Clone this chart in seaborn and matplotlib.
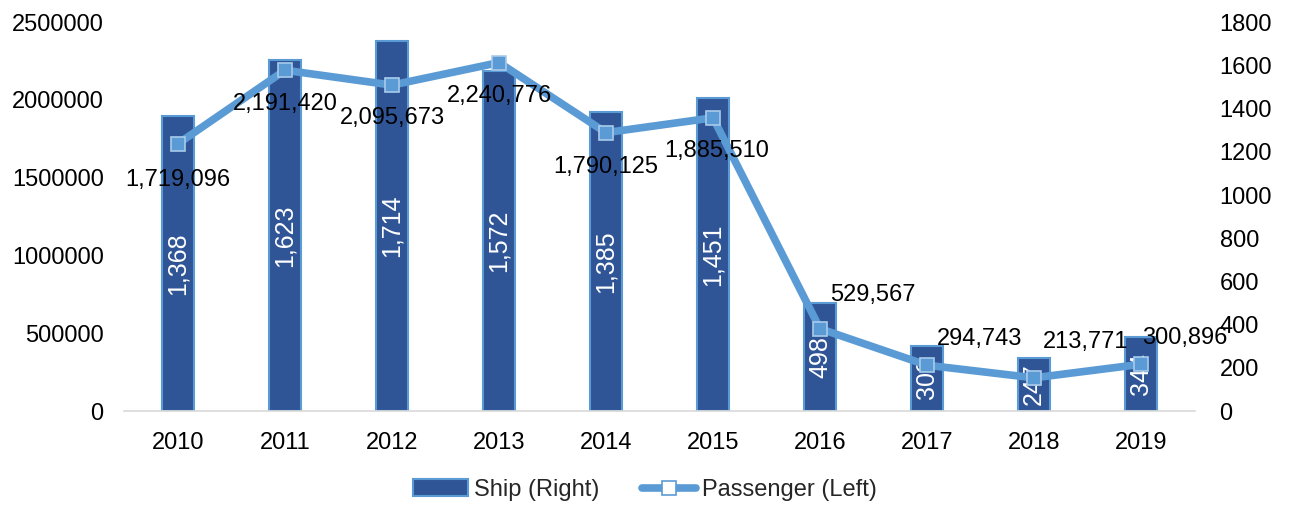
import matplotlib
matplotlib.use("Agg")
import matplotlib.pyplot as plt
from matplotlib.patches import Patch
from matplotlib.lines import Line2D
import numpy as np
import pandas as pd
import seaborn as sns

# Data
years = ["2010", "2011", "2012", "2013", "2014", "2015", "2016", "2017", "2018", "2019"]
ships = [1368, 1623, 1714, 1572, 1385, 1451, 498, 303, 247, 344]
passengers = [1719096, 2191420, 2095673, 2240776, 1790125, 1885510, 529567, 294743, 213771, 300896]
left_ticks = [0, 500000, 1000000, 1500000, 2000000, 2500000]
right_ticks = [0, 200, 400, 600, 800, 1000, 1200, 1400, 1600, 1800]

# Passenger label placement (offset in points, horizontal alignment)
label_offsets = [(0, -26), (0, -24), (0, -24), (0, -24), (0, -25), (3, -24),
                 (7, 24), (7, 19), (6.5, 26), (0.5, 19)]
label_align = ["center"] * 6 + ["left"] * 4

sns.set_theme(style="white")
plt.rcParams["font.family"] = ["Liberation Sans", "DejaVu Sans"]

BAR = "#2F5597"
LINE = "#5B9BD5"
FS = 17

df = pd.DataFrame({"year": years, "ship": ships, "passenger": passengers})

fig = plt.figure(figsize=(12.9, 5.05), dpi=100)
ax = fig.add_axes([0.0965, 0.186, 0.8295, 0.770])

# Ships (right scale)
sns.barplot(data=df, x="year", y="ship", ax=ax, color=BAR, saturation=1,
            width=0.3, edgecolor=LINE, linewidth=1.5, zorder=2)
ax.set_ylim(0, 1800)
ax.set_yticks(right_ticks)

for patch, val in zip(ax.patches, ships):
    cx = patch.get_x() + patch.get_width() / 2
    ax.text(cx, val / 2, f"{val:,}", rotation=90, ha="center", va="center",
            color="white", fontsize=18, zorder=3)

# Passengers (left scale)
ax2 = ax.twinx()
sns.pointplot(data=df, x="year", y="passenger", ax=ax2, color=LINE,
              markers="s", linestyles="-", linewidth=5.5, markersize=10,
              markerfacecolor=LINE, markeredgecolor="#A9CBEA",
              markeredgewidth=1.2, zorder=4)
ax2.set_ylim(0, 2500000)
ax2.set_yticks(left_ticks)
ax2.set_yticklabels([str(v) for v in left_ticks])

# Bars read against the right scale, the line against the left one
ax.yaxis.tick_right()
ax.yaxis.set_label_position("right")
ax2.yaxis.tick_left()
ax2.yaxis.set_label_position("left")

for i, val in enumerate(passengers):
    ax2.annotate(f"{val:,}", (i, val), xytext=label_offsets[i], textcoords="offset points",
                 ha=label_align[i], va="center", fontsize=FS, color="black", zorder=5)

for a in (ax, ax2):
    a.set_xlim(-0.5, len(years) - 0.5)
    a.set_xlabel("")
    a.set_ylabel("")
    a.grid(False)
    for s in a.spines.values():
        s.set_visible(False)
    a.tick_params(axis="both", length=0, labelsize=FS, colors="black")

ax.spines["bottom"].set_visible(True)
ax.spines["bottom"].set_color("#D9D9D9")
ax.spines["bottom"].set_linewidth(1.2)
ax.tick_params(axis="x", pad=15)
ax.tick_params(axis="y", pad=18)
ax2.tick_params(axis="y", pad=15)

handles = [
    Patch(facecolor=BAR, edgecolor=LINE, linewidth=1.5),
    Line2D([0], [0], color=LINE, linewidth=5.5, marker="s", markersize=10,
           markerfacecolor="white", markeredgecolor=LINE, markeredgewidth=1.2),
]
fig.legend(handles, ["Ship (Right)", "Passenger (Left)"], loc="center",
           bbox_to_anchor=(0.5, 0.03), ncol=2, frameon=False, fontsize=FS,
           handlelength=2.3, handletextpad=0.25, columnspacing=1.8)

fig.savefig("out.png", dpi=100)
